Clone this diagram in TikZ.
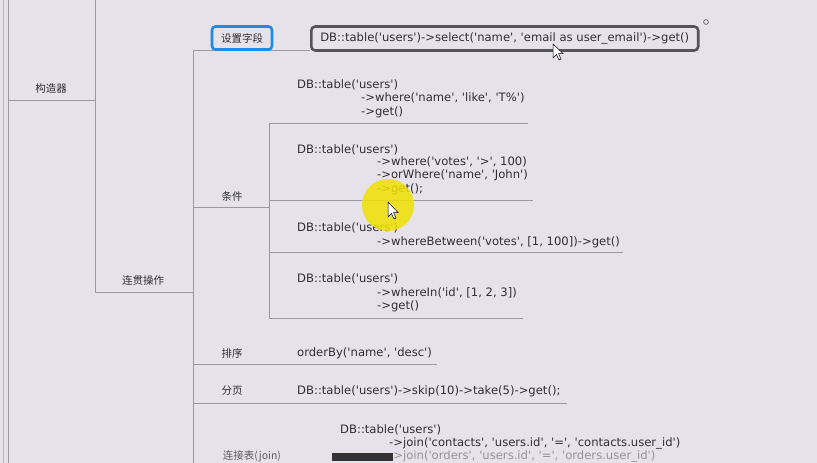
\documentclass[tikz,border=0pt]{standalone}
\usepackage{fontspec}
\setmainfont{DejaVu Sans}
\setmonofont{DejaVu Sans}
\newfontfamily\cjk{Noto Sans CJK SC}
\definecolor{bg}{HTML}{E6E2EA}
\definecolor{ln}{HTML}{9A98A0}
\definecolor{tx}{HTML}{2E2E34}
\definecolor{bluebox}{HTML}{1E8CE6}
\definecolor{darkbox}{HTML}{55545A}
\definecolor{hilite}{HTML}{F0E000}
\tikzset{
  lbl/.style={text=tx,font=\cjk\fontsize{10.5}{12}\selectfont,inner sep=0pt},
  code/.style={text=tx,font=\ttfamily\fontsize{11.6}{12}\selectfont,inner sep=0pt,anchor=west},
  faded/.style={code,text=tx!45!bg},
  treeline/.style={draw=ln,line width=0.8pt},
  cursor/.style={fill=white,draw=black,line width=0.5pt},
}
\begin{document}
\begin{tikzpicture}[x=1pt,y=-1pt]
\fill[bg] (0,0) rectangle (817,463);
\useasboundingbox (0,0) rectangle (817,463);

% coordinates of the tree
\coordinate (r0top) at (8,0);
\coordinate (r0bot) at (8,463);
\coordinate (r0b) at (3.5,0);
\coordinate (r0bb) at (3.5,463);
\coordinate (gz) at (95,100);
\coordinate (v1top) at (95,0);
\coordinate (lg) at (95,292);
\coordinate (lgend) at (193,292);
\coordinate (v2top) at (193,50);
\coordinate (v2bot) at (193,463);
\coordinate (szend) at (310,50);
\coordinate (tj) at (193,207);
\coordinate (tjend) at (269,207);
\coordinate (v3top) at (269,123);
\coordinate (v3bot) at (269,318);
\coordinate (b1end) at (528,123);
\coordinate (b2l) at (269,200);
\coordinate (b2end) at (533,200);
\coordinate (b3l) at (269,252);
\coordinate (b3end) at (623,252);
\coordinate (b4end) at (523,318);
\coordinate (px) at (193,364);
\coordinate (pxend) at (437,364);
\coordinate (fy) at (193,403);
\coordinate (fyend) at (567,403);

\draw[treeline] (r0top) -- (r0bot);
\draw[draw=ln!55!bg,line width=0.6pt] (r0b) -- (r0bb);
\draw[treeline] (r0top |- gz) -- (gz);
\draw[treeline] (v1top) -- (lg) -- (lgend);
\draw[treeline] (v2top) -- (v2bot);
\draw[treeline] (v2top) -- (szend);
\draw[treeline] (tj) -- (tjend);
\draw[treeline] (v3top) -- (v3bot);
\draw[treeline] (v3top) -- (b1end);
\draw[treeline] (b2l) -- (b2end);
\draw[treeline] (b3l) -- (b3end);
\draw[treeline] (v3bot) -- (b4end);
\draw[treeline] (px) -- (pxend);
\draw[treeline] (fy) -- (fyend);

% labels
\node[lbl] (gouzao) at (51,89) {构造器};
\node[lbl] (liangan) at (143,281) {连贯操作};
\node[lbl,draw=bluebox,line width=2.6pt,rounded corners=3.5pt,inner xsep=6pt,inner ysep=5pt,minimum width=60pt,minimum height=23pt] (shezhi) at (242,38) {设置字段};
\node[lbl] (tiaojian) at (232,196) {条件};
\node[lbl] (paixu) at (232,353) {排序};
\node[lbl] (fenye) at (232,391) {分页};
\node[lbl,text=tx!75!bg] (join) at (252,456) {连接表(join)};

% select box
\node[code,draw=darkbox,line width=2.6pt,rounded corners=4pt,inner xsep=9pt,minimum height=24pt] (sel) at (310,38.5) {DB::table('users')->select('name', 'email as user\_email')->get()};
\draw[ln!70!black,line width=0.8pt] (706,22) circle (2.4);

% block 1
\node[code] (a1) at (297,85) {DB::table('users')};
\node[code] (a2) at (361,98) {->where('name', 'like', 'T\%')};
\node[code] (a3) at (361,112) {->get()};
% block 2
\node[code] (c1) at (297,150) {DB::table('users')};
\node[code] (c2) at (377,162) {->where('votes', '>', 100)};
\node[code] (c3) at (377,175) {->orWhere('name', 'John')};
\node[code] (c4) at (377,189) {->get();};
% block 3
\node[code] (d1) at (297,228) {DB::table('users')};
\node[code] (d2) at (377,242) {->whereBetween('votes', [1, 100])->get()};
% block 4
\node[code] (e1) at (297,279) {DB::table('users')};
\node[code] (e2) at (377,293) {->whereIn('id', [1, 2, 3])};
\node[code] (e3) at (377,306) {->get()};
% sort, paging
\node[code] (f1) at (297,353) {orderBy('name', 'desc')};
\node[code] (g1) at (297,391) {DB::table('users')->skip(10)->take(5)->get();};
% join
\node[code] (h1) at (340,430) {DB::table('users')};
\node[code] (h2) at (389,443) {->join('contacts', 'users.id', '=', 'contacts.user\_id')};
\node[faded] (h3) at (389,456) {->join('orders', 'users.id', '=', 'orders.user\_id')};
\fill[black!80] (332,452.5) rectangle (393,460.5);

% cursor highlight
\fill[hilite,opacity=0.85] (388,205) circle (26);
\draw[cursor] (388,202) -- (388,217) -- (391.5,213.5) -- (394,219) -- (396,218) -- (393.5,212.5) -- (398,212.5) -- cycle;
\draw[cursor] (553,44) -- (553,58) -- (556.5,54.5) -- (559,60) -- (561,59) -- (558.5,53.5) -- (563,53.5) -- cycle;
\end{tikzpicture}
\end{document}
